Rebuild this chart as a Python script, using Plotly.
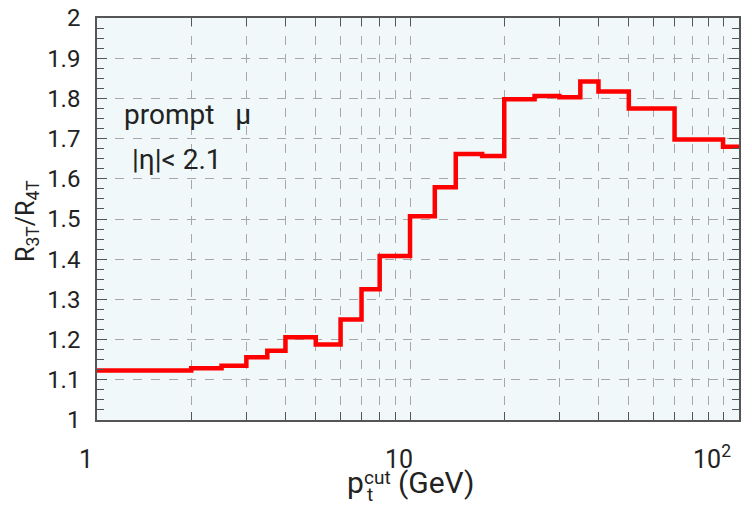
import plotly.graph_objects as go

# Bin edges (GeV) and ratio values
bin_edges = [1, 2, 2.5, 3, 3.5, 4, 5, 6, 7, 8, 10, 12, 14, 17, 20, 25, 30, 35, 40, 50, 70, 100, 120]
ratio_values = [1.123, 1.129, 1.135, 1.156, 1.172, 1.206, 1.188, 1.250, 1.325, 1.408,
                1.507, 1.579, 1.662, 1.657, 1.798, 1.806, 1.803, 1.842, 1.817, 1.775,
                1.698, 1.680]

x_major_vals = [1, 10, 100]
x_major_text = ["1", "10", "10<sup>2</sup>"]
x_minor_vals = [2, 3, 4, 5, 6, 7, 8, 9, 20, 30, 40, 50, 60, 70, 80, 90]
y_tick_vals = [1.0, 1.1, 1.2, 1.3, 1.4, 1.5, 1.6, 1.7, 1.8, 1.9, 2.0]
y_tick_text = ["1", "1.1", "1.2", "1.3", "1.4", "1.5", "1.6", "1.7", "1.8", "1.9", "2"]

# Page is offset by the browser's default 8px body margin
OFF = 8
W, H = 752 - OFF, 511 - OFF
# plot area in page pixels
L, R, T, B = 97, 739, 18, 420


def px(x):
    return (x - L) / (R - L)


def py(y):
    return (B - y) / (B - T)


FONT = "Roboto"
TXT = "#222222"
GRID = "#a8a8a8"
FRAME = "#555555"

fig = go.Figure()
fig.add_trace(go.Scatter(
    x=bin_edges,
    y=ratio_values + [ratio_values[-1]],
    mode="lines",
    line=dict(shape="hv", color="#ff0000", width=4.5),
    hoverinfo="skip",
    showlegend=False,
))

fig.update_layout(
    width=W, height=H,
    margin=dict(l=L - OFF, r=752 - R, t=T - OFF, b=511 - B, autoexpand=False),
    paper_bgcolor="white",
    plot_bgcolor="#f0f8fa",
    font=dict(family=FONT, color=TXT),
    showlegend=False,
)

fig.update_xaxes(
    type="log",
    range=[0, 2.051],
    automargin=False,
    tickmode="array",
    tickvals=x_major_vals,
    ticktext=x_major_text,
    ticks="inside",
    ticklen=8,
    tickcolor=FRAME,
    tickfont=dict(size=25, family=FONT, color=TXT),
    ticklabelshift=-11,
    ticklabelstandoff=16,
    ticklabeloverflow="allow",
    showgrid=True,
    gridcolor=GRID,
    griddash="dash",
    gridwidth=1,
    showline=True,
    linecolor=FRAME,
    linewidth=1.5,
    mirror="ticks",
    zeroline=False,
    minor=dict(tickmode="array", tickvals=x_minor_vals, ticks="inside", ticklen=8,
               tickcolor=FRAME, showgrid=True, gridcolor=GRID, griddash="dash", gridwidth=1),
)

fig.update_yaxes(
    range=[1, 2],
    automargin=False,
    tickmode="array",
    tickvals=y_tick_vals,
    ticktext=y_tick_text,
    ticks="inside",
    ticklen=10,
    tickcolor=FRAME,
    tickfont=dict(size=24, family=FONT, color=TXT),
    ticklabelstandoff=10,
    ticklabeloverflow="allow",
    showgrid=True,
    gridcolor=GRID,
    griddash="dash",
    gridwidth=1,
    showline=True,
    linecolor=FRAME,
    linewidth=1.5,
    mirror="ticks",
    zeroline=False,
    minor=dict(dtick=0.025, ticks="inside", ticklen=7, tickcolor=FRAME, showgrid=False),
)

annots = [
    dict(text="prompt   μ", x=px(122), y=py(115), xanchor="left", yanchor="middle", size=28),
    dict(text="|η|< 2.1", x=px(130), y=py(160), xanchor="left", yanchor="middle", size=28),
    dict(text="p", x=px(345), y=py(482), xanchor="left", yanchor="middle", size=30),
    dict(text="cut", x=px(362), y=py(478), xanchor="left", yanchor="middle", size=19),
    dict(text="t", x=px(365), y=py(494), xanchor="left", yanchor="middle", size=19),
    dict(text="(GeV)", x=px(396), y=py(482), xanchor="left", yanchor="middle", size=30),
]
for a in annots:
    fig.add_annotation(text=a["text"], x=a["x"], y=a["y"], xref="paper", yref="paper",
                       xanchor=a["xanchor"], yanchor=a["yanchor"], showarrow=False,
                       font=dict(size=a["size"], family=FONT, color=TXT))

fig.add_annotation(text="R<sub>3T</sub>/R<sub>4T</sub>", x=px(27), y=py(221),
                   xref="paper", yref="paper", textangle=-90, showarrow=False,
                   xanchor="center", yanchor="middle",
                   font=dict(size=25, family=FONT, color=TXT))

fig.write_html("out.html")
